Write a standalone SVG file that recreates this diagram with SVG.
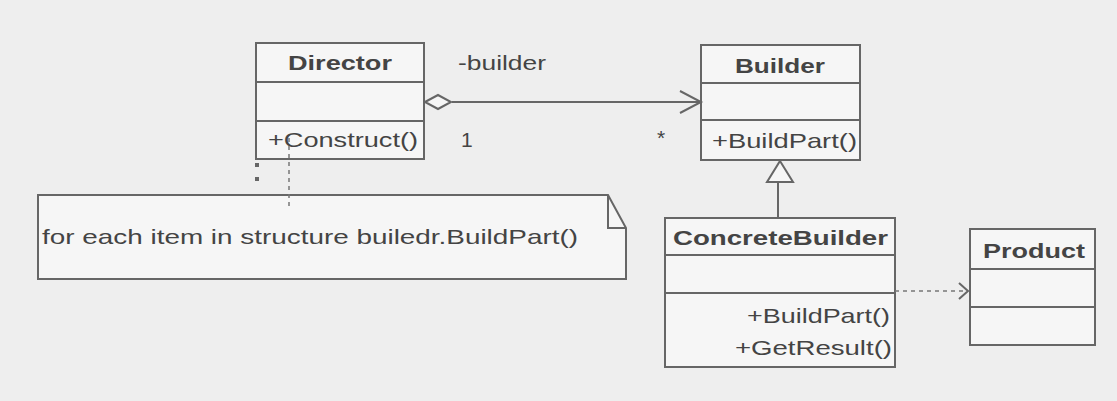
<svg xmlns="http://www.w3.org/2000/svg" width="1117" height="401" viewBox="0 0 1117 401">
<style>
.box{fill:#f6f6f6;stroke:#666;stroke-width:2}
.ln{stroke:#666;stroke-width:2;fill:none}
.t{font-family:"Liberation Sans",Arial,sans-serif;fill:#444;font-size:21px}
.b{font-weight:bold}
.dash{stroke:#777;stroke-width:1.5;fill:none;stroke-dasharray:4 4}
</style>
<rect x="0" y="0" width="1117" height="401" fill="#eeeeee"/>
<g id="note">
<path class="box" d="M38 195 H608 L626 228 V279 H38 Z"/>
<path class="ln" d="M608 195 V228 H626" stroke-width="1.5"/>
<text class="t" x="42" y="244" font-size="24" textLength="536" lengthAdjust="spacingAndGlyphs">for each item in structure builedr.BuildPart()</text>
</g>
<g id="director">
<rect class="box" x="256" y="43" width="168" height="116"/>
<line class="ln" x1="256" y1="82" x2="424" y2="82"/>
<line class="ln" x1="256" y1="121" x2="424" y2="121"/>
<text class="t b" x="288" y="70" textLength="104" lengthAdjust="spacingAndGlyphs">Director</text>
<text class="t" x="268" y="147" textLength="150" lengthAdjust="spacingAndGlyphs">+Construct()</text>
</g>
<g id="builder">
<rect class="box" x="701" y="45" width="159" height="115"/>
<line class="ln" x1="701" y1="83" x2="860" y2="83"/>
<line class="ln" x1="701" y1="120" x2="860" y2="120"/>
<text class="t b" x="735" y="73" textLength="90" lengthAdjust="spacingAndGlyphs">Builder</text>
<text class="t" x="712" y="148" textLength="145" lengthAdjust="spacingAndGlyphs">+BuildPart()</text>
</g>
<g id="concretebuilder">
<rect class="box" x="665" y="218" width="230" height="149"/>
<line class="ln" x1="665" y1="255" x2="895" y2="255"/>
<line class="ln" x1="665" y1="293" x2="895" y2="293"/>
<text class="t b" x="673" y="245" textLength="215" lengthAdjust="spacingAndGlyphs">ConcreteBuilder</text>
<text class="t" x="747" y="323" textLength="143" lengthAdjust="spacingAndGlyphs">+BuildPart()</text>
<text class="t" x="735" y="355" textLength="157" lengthAdjust="spacingAndGlyphs">+GetResult()</text>
</g>
<g id="product">
<rect class="box" x="970" y="229" width="125" height="116"/>
<line class="ln" x1="970" y1="269" x2="1095" y2="269"/>
<line class="ln" x1="970" y1="307" x2="1095" y2="307"/>
<text class="t b" x="983" y="258" textLength="102" lengthAdjust="spacingAndGlyphs">Product</text>
</g>
<g id="connectors">
<line class="ln" x1="452" y1="102" x2="701" y2="102"/>
<path class="box" d="M425 102 L438 95 L451 102 L438 109 Z"/>
<path class="ln" d="M680 91 L701 102 L680 113"/>
<text class="t" x="458" y="70" textLength="88" lengthAdjust="spacingAndGlyphs">-builder</text>
<text class="t" x="461" y="147">1</text>
<text class="t" x="657" y="145">*</text>
<line class="ln" x1="778" y1="182" x2="778" y2="218"/>
<path class="box" d="M780 161 L793 182 L767 182 Z"/>
<line class="dash" x1="895" y1="291" x2="966" y2="291"/>
<path class="ln" d="M959 283 L968 291 L959 299" stroke-width="1.5"/>
<line class="dash" x1="289" y1="138" x2="289" y2="208" stroke-dasharray="3 3"/>
<rect x="255" y="163" width="4" height="4" fill="#666"/>
<rect x="255" y="177" width="4" height="4" fill="#666"/>
</g>
</svg>
